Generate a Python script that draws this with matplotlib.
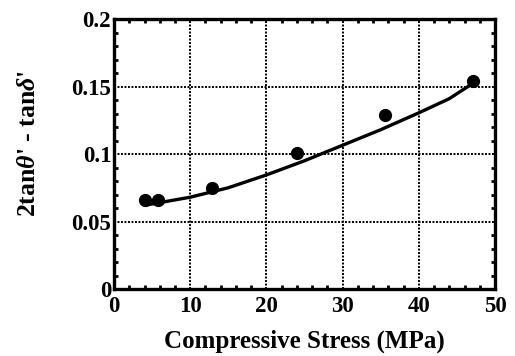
import matplotlib
matplotlib.use("Agg")
import matplotlib.pyplot as plt
from matplotlib.ticker import MultipleLocator

# data
stress_pts = [4.0, 5.8, 12.8, 24.0, 35.6, 47.1]
value_pts = [0.066, 0.066, 0.075, 0.101, 0.129, 0.154]
curve_x = [4, 7, 10, 15, 20, 25, 30, 35, 40, 44, 47]
curve_y = [0.062, 0.065, 0.068, 0.075, 0.0845, 0.095, 0.1065, 0.118, 0.1305, 0.141, 0.152]
x_ticks = [0, 10, 20, 30, 40, 50]
y_ticks = [0, 0.05, 0.1, 0.15, 0.2]
y_tick_labels = ["0", "0.05", "0.1", "0.15", "0.2"]

plt.rcParams['font.family'] = ['Liberation Serif', 'DejaVu Serif']
plt.rcParams['font.weight'] = 'bold'
plt.rcParams['mathtext.fontset'] = 'custom'
plt.rcParams['mathtext.it'] = 'Liberation Serif:italic:bold'
plt.rcParams['mathtext.rm'] = 'Liberation Serif:bold'

fig = plt.figure(figsize=(5.15, 3.56), dpi=100)
ax = fig.add_axes([0.2214, 0.1882, 0.7398, 0.7584])

ax.set_xlim(0, 50)
ax.set_ylim(0, 0.2)
ax.set_xticks(x_ticks)
ax.set_yticks(y_ticks)
ax.set_yticklabels(y_tick_labels)
ax.xaxis.set_minor_locator(MultipleLocator(2))
ax.yaxis.set_minor_locator(MultipleLocator(0.01))

ax.grid(True, which='major', color='black', linestyle=(0, (1, 0.8)), linewidth=1.4)
ax.tick_params(which='both', direction='in', top=True, right=True, colors='black')
ax.tick_params(which='major', length=0, width=0, labelsize=16.5)
ax.tick_params(axis='y', which='major', pad=2)
ax.tick_params(axis='x', which='major', pad=5)
ax.tick_params(which='minor', length=3, width=2)
for lbl in ax.get_xticklabels() + ax.get_yticklabels():
    lbl.set_fontweight('bold')
for s in ax.spines.values():
    s.set_linewidth(2.4)
    s.set_color('black')

ax.plot(curve_x, curve_y, color='black', linewidth=2.4, solid_capstyle='round', zorder=3)
ax.plot(stress_pts, value_pts, 'o', color='black', markersize=8.5, zorder=4)

ax.set_xlabel("Compressive Stress (MPa)", fontsize=18, fontweight='bold', labelpad=9)
ax.set_ylabel("2tan$\\theta$' - tan$\\delta$'", fontsize=18.5, fontweight='bold')
ax.yaxis.set_label_coords(-0.195, 0.54)

fig.savefig("out.png", dpi=100)
